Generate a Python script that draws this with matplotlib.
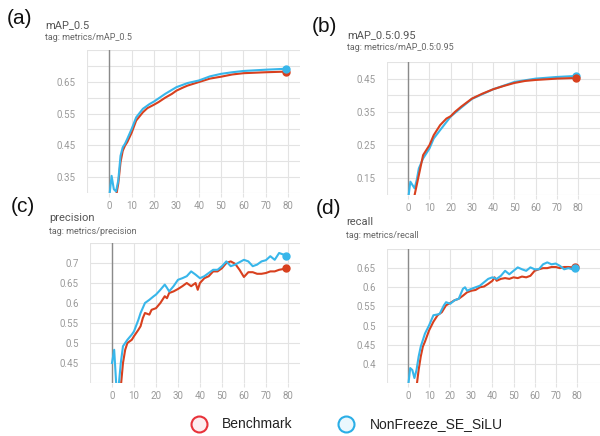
import matplotlib
matplotlib.use("Agg")
import matplotlib.pyplot as plt
import numpy as np

# ---------------- data ----------------
# (a) mAP_0.5
ep_a_bench = [3, 4, 5, 6, 7, 8, 10, 12, 15, 17, 20, 22, 25, 28, 30, 33, 35, 40, 45, 50, 55, 60, 70, 79]
map50_bench = [0.29, 0.33, 0.397, 0.433, 0.449, 0.46, 0.49, 0.528, 0.554, 0.567, 0.578, 0.586, 0.60,
               0.612, 0.622, 0.632, 0.638, 0.649, 0.66, 0.666, 0.673, 0.677, 0.680, 0.682]
ep_a_se = [0, 1, 2, 3, 4, 5, 6, 7, 8, 10, 12, 15, 18, 20, 25, 30, 35, 40, 45, 50, 55, 60, 70, 79]
map50_se = [0.29, 0.354, 0.312, 0.305, 0.34, 0.417, 0.444, 0.455, 0.47, 0.502, 0.538, 0.565, 0.58,
            0.588, 0.612, 0.633, 0.646, 0.654, 0.667, 0.675, 0.68, 0.684, 0.688, 0.691]

# (b) mAP_0.5:0.95
ep_b_bench = [3, 5, 7, 10, 12, 15, 18, 20, 22, 25, 30, 35, 40, 45, 50, 55, 60, 70, 79]
map5095_bench = [0.10, 0.16, 0.22, 0.25, 0.28, 0.31, 0.33, 0.337, 0.35, 0.366, 0.39, 0.405, 0.418,
                 0.428, 0.437, 0.443, 0.446, 0.45, 0.452]
ep_b_se = [0, 1, 2, 3, 4, 5, 7, 10, 12, 15, 20, 25, 30, 40, 50, 60, 70, 79]
map5095_se = [0.09, 0.14, 0.13, 0.12, 0.145, 0.18, 0.21, 0.24, 0.27, 0.295, 0.336, 0.363, 0.389,
              0.418, 0.44, 0.45, 0.455, 0.458]

# (c) precision
ep_c_se = [0, 1, 2, 3, 4, 5, 7, 9, 10, 12, 13, 15, 17, 19, 20, 22, 24, 25, 26, 28, 30, 32, 34, 36,
           38, 40, 42, 44, 46, 48, 50, 52, 54, 56, 58, 60, 62, 64, 66, 68, 70, 72, 74, 76, 78, 79]
prec_se = [0.45, 0.483, 0.39, 0.39, 0.45, 0.492, 0.508, 0.521, 0.529, 0.558, 0.575, 0.60, 0.608,
           0.617, 0.621, 0.633, 0.646, 0.638, 0.629, 0.642, 0.658, 0.662, 0.667, 0.679, 0.671,
           0.662, 0.667, 0.675, 0.683, 0.683, 0.692, 0.704, 0.692, 0.696, 0.702, 0.708, 0.704,
           0.692, 0.696, 0.704, 0.707, 0.717, 0.708, 0.725, 0.721, 0.717]
ep_c_bench = [4, 5, 6, 7, 9, 10, 12, 13, 14, 15, 17, 18, 20, 22, 24, 25, 26, 28, 30, 32, 34, 36, 38,
              39, 40, 42, 44, 46, 48, 50, 52, 54, 56, 58, 60, 62, 64, 66, 68, 70, 72, 74, 76, 78, 79]
prec_bench = [0.39, 0.45, 0.483, 0.50, 0.508, 0.517, 0.533, 0.542, 0.562, 0.575, 0.571, 0.583,
              0.587, 0.60, 0.617, 0.612, 0.625, 0.629, 0.635, 0.642, 0.65, 0.642, 0.65, 0.633,
              0.65, 0.662, 0.667, 0.679, 0.679, 0.687, 0.70, 0.704, 0.698, 0.683, 0.665, 0.677,
              0.677, 0.673, 0.673, 0.675, 0.679, 0.679, 0.683, 0.685, 0.687]

# (d) recall
ep_d_se = [0, 1, 2, 3, 4, 5, 6, 8, 10, 12, 14, 15, 17, 18, 20, 22, 24, 26, 27, 28, 30, 32, 34, 36,
           38, 40, 42, 44, 46, 48, 50, 52, 54, 56, 58, 60, 62, 64, 66, 68, 70, 72, 74, 76, 78, 79]
recall_se = [0.34, 0.389, 0.384, 0.363, 0.384, 0.419, 0.445, 0.479, 0.501, 0.527, 0.529, 0.531,
             0.553, 0.561, 0.557, 0.566, 0.57, 0.596, 0.60, 0.591, 0.596, 0.60, 0.604, 0.613,
             0.622, 0.626, 0.622, 0.63, 0.643, 0.634, 0.643, 0.652, 0.647, 0.643, 0.652, 0.647,
             0.647, 0.66, 0.665, 0.66, 0.662, 0.656, 0.647, 0.65, 0.647, 0.65]
ep_d_bench = [4, 5, 6, 7, 8, 10, 12, 14, 16, 17, 18, 20, 22, 24, 26, 28, 30, 32, 34, 36, 38, 40, 41,
              42, 44, 46, 48, 50, 52, 54, 56, 58, 60, 62, 64, 66, 68, 70, 72, 74, 76, 78, 79]
recall_bench = [0.34, 0.384, 0.419, 0.445, 0.458, 0.488, 0.51, 0.527, 0.535, 0.544, 0.553, 0.559,
                0.566, 0.57, 0.578, 0.587, 0.591, 0.593, 0.60, 0.602, 0.609, 0.617, 0.626, 0.617,
                0.622, 0.624, 0.622, 0.626, 0.624, 0.628, 0.626, 0.63, 0.643, 0.647, 0.65, 0.65,
                0.653, 0.653, 0.65, 0.653, 0.653, 0.652, 0.653]

panel_letters = ["(a)", "(b)", "(c)", "(d)"]
titles = ["mAP_0.5", "mAP_0.5:0.95", "precision", "recall"]
tags = ["tag: metrics/mAP_0.5", "tag: metrics/mAP_0.5:0.95", "tag: metrics/precision", "tag: metrics/recall"]
legend_labels = ["Benchmark", "NonFreeze_SE_SiLU"]
x_ticks = [0, 10, 20, 30, 40, 50, 60, 70, 80]

RED = "#d8401e"
BLUE = "#38b6ea"
TICK_C = "#9a9a9a"
GRID_C = "#e3e3e3"

W, H = 600, 436
fig = plt.figure(figsize=(6, 4.36), dpi=100)


def fx(px):
    return px / W


def fy(py):
    return 1 - py / H


panels = [
    dict(box=(87, 300, 50, 193), xlim=(-10, 85.3), ylim=(0.30, 0.75),
         yl=[0.35, 0.45, 0.55, 0.65], fmt="{:.2f}",
         series=[(ep_a_bench, map50_bench, RED), (ep_a_se, map50_se, BLUE)]),
    dict(box=(387, 600, 62, 195), xlim=(-10, 90.3), ylim=(0.10, 0.50),
         yl=[0.15, 0.25, 0.35, 0.45], fmt="{:.2f}",
         series=[(ep_b_se, map5095_se, BLUE), (ep_b_bench, map5095_bench, RED)]),
    dict(box=(90, 300, 243, 383), xlim=(-10, 85.5), ylim=(0.40, 0.75),
         yl=[0.45, 0.5, 0.55, 0.6, 0.65, 0.7], fmt="{:g}",
         series=[(ep_c_bench, prec_bench, RED), (ep_c_se, prec_se, BLUE)]),
    dict(box=(387, 600, 249, 383), xlim=(-10, 91), ylim=(0.35, 0.70),
         yl=[0.4, 0.45, 0.5, 0.55, 0.6, 0.65], fmt="{:g}",
         series=[(ep_d_bench, recall_bench, RED), (ep_d_se, recall_se, BLUE)]),
]

for p in panels:
    l, r, t, b = p["box"]
    ax = fig.add_axes([fx(l), fy(b), (r - l) / W, (b - t) / H])
    ax.set_xlim(*p["xlim"])
    ax.set_ylim(*p["ylim"])
    for s in ax.spines.values():
        s.set_visible(False)
    ymin, ymax = p["ylim"]
    for gy in np.arange(ymin, ymax + 1e-9, 0.05):
        ax.axhline(gy, color=GRID_C, lw=0.8, zorder=0)
    for gx in range(-10, 81, 10):
        ax.axvline(gx, color=GRID_C, lw=0.8, zorder=0)
    ax.axvline(0, color="#8a8a8a", lw=1.0, zorder=1)
    ax.set_xticks(x_ticks)
    ax.set_xticklabels([str(v) for v in x_ticks])
    ax.set_yticks(p["yl"])
    ax.set_yticklabels([p["fmt"].format(v) for v in p["yl"]])
    ax.tick_params(axis="x", length=3, color=GRID_C, labelsize=7, labelcolor=TICK_C, pad=3)
    ax.tick_params(axis="y", length=0, labelsize=7, labelcolor=TICK_C, pad=8)
    for lab in ax.get_xticklabels() + ax.get_yticklabels():
        lab.set_family("Roboto")
    for xs, ys, c in p["series"]:
        ax.plot(xs, ys, color=c, lw=1.5, zorder=3, solid_joinstyle="round")
        ax.plot([xs[-1]], [ys[-1]], "o", color=c, ms=5, zorder=4, clip_on=False)

letter_pos = [(7, 19), (312, 26), (11, 206), (316, 208)]
title_pos = [(45, 25), (347, 35), (49, 218), (346, 222)]
tag_pos = [(45, 38), (347, 48), (49, 231), (346, 235)]
for i in range(4):
    fig.text(fx(letter_pos[i][0]), fy(letter_pos[i][1]), panel_letters[i], fontsize=15,
             family="Liberation Sans", color="#111111", ha="left", va="center")
    fig.text(fx(title_pos[i][0]), fy(title_pos[i][1]), titles[i], fontsize=8,
             family="Roboto", color="#555555", ha="left", va="center")
    fig.text(fx(tag_pos[i][0]), fy(tag_pos[i][1]), tags[i], fontsize=6.5,
             family="Roboto", color="#666666", ha="left", va="center")

leg_ax = fig.add_axes([0, 0, 1, 1], facecolor="none")
leg_ax.set_xlim(0, W)
leg_ax.set_ylim(H, 0)
leg_ax.axis("off")
leg_ax.plot([199], [424], "o", ms=11.5, mfc="#fdeef0", mec="#e8323a", mew=1.5)
leg_ax.plot([346], [424], "o", ms=11.5, mfc="#eaf7fd", mec="#2aaee6", mew=1.5)
leg_ax.text(222, 424, legend_labels[0], fontsize=10, family="Liberation Sans", color="#222222",
            ha="left", va="center")
leg_ax.text(370, 424, legend_labels[1], fontsize=10, family="Liberation Sans", color="#222222",
            ha="left", va="center")

fig.savefig("out.png", dpi=100)
